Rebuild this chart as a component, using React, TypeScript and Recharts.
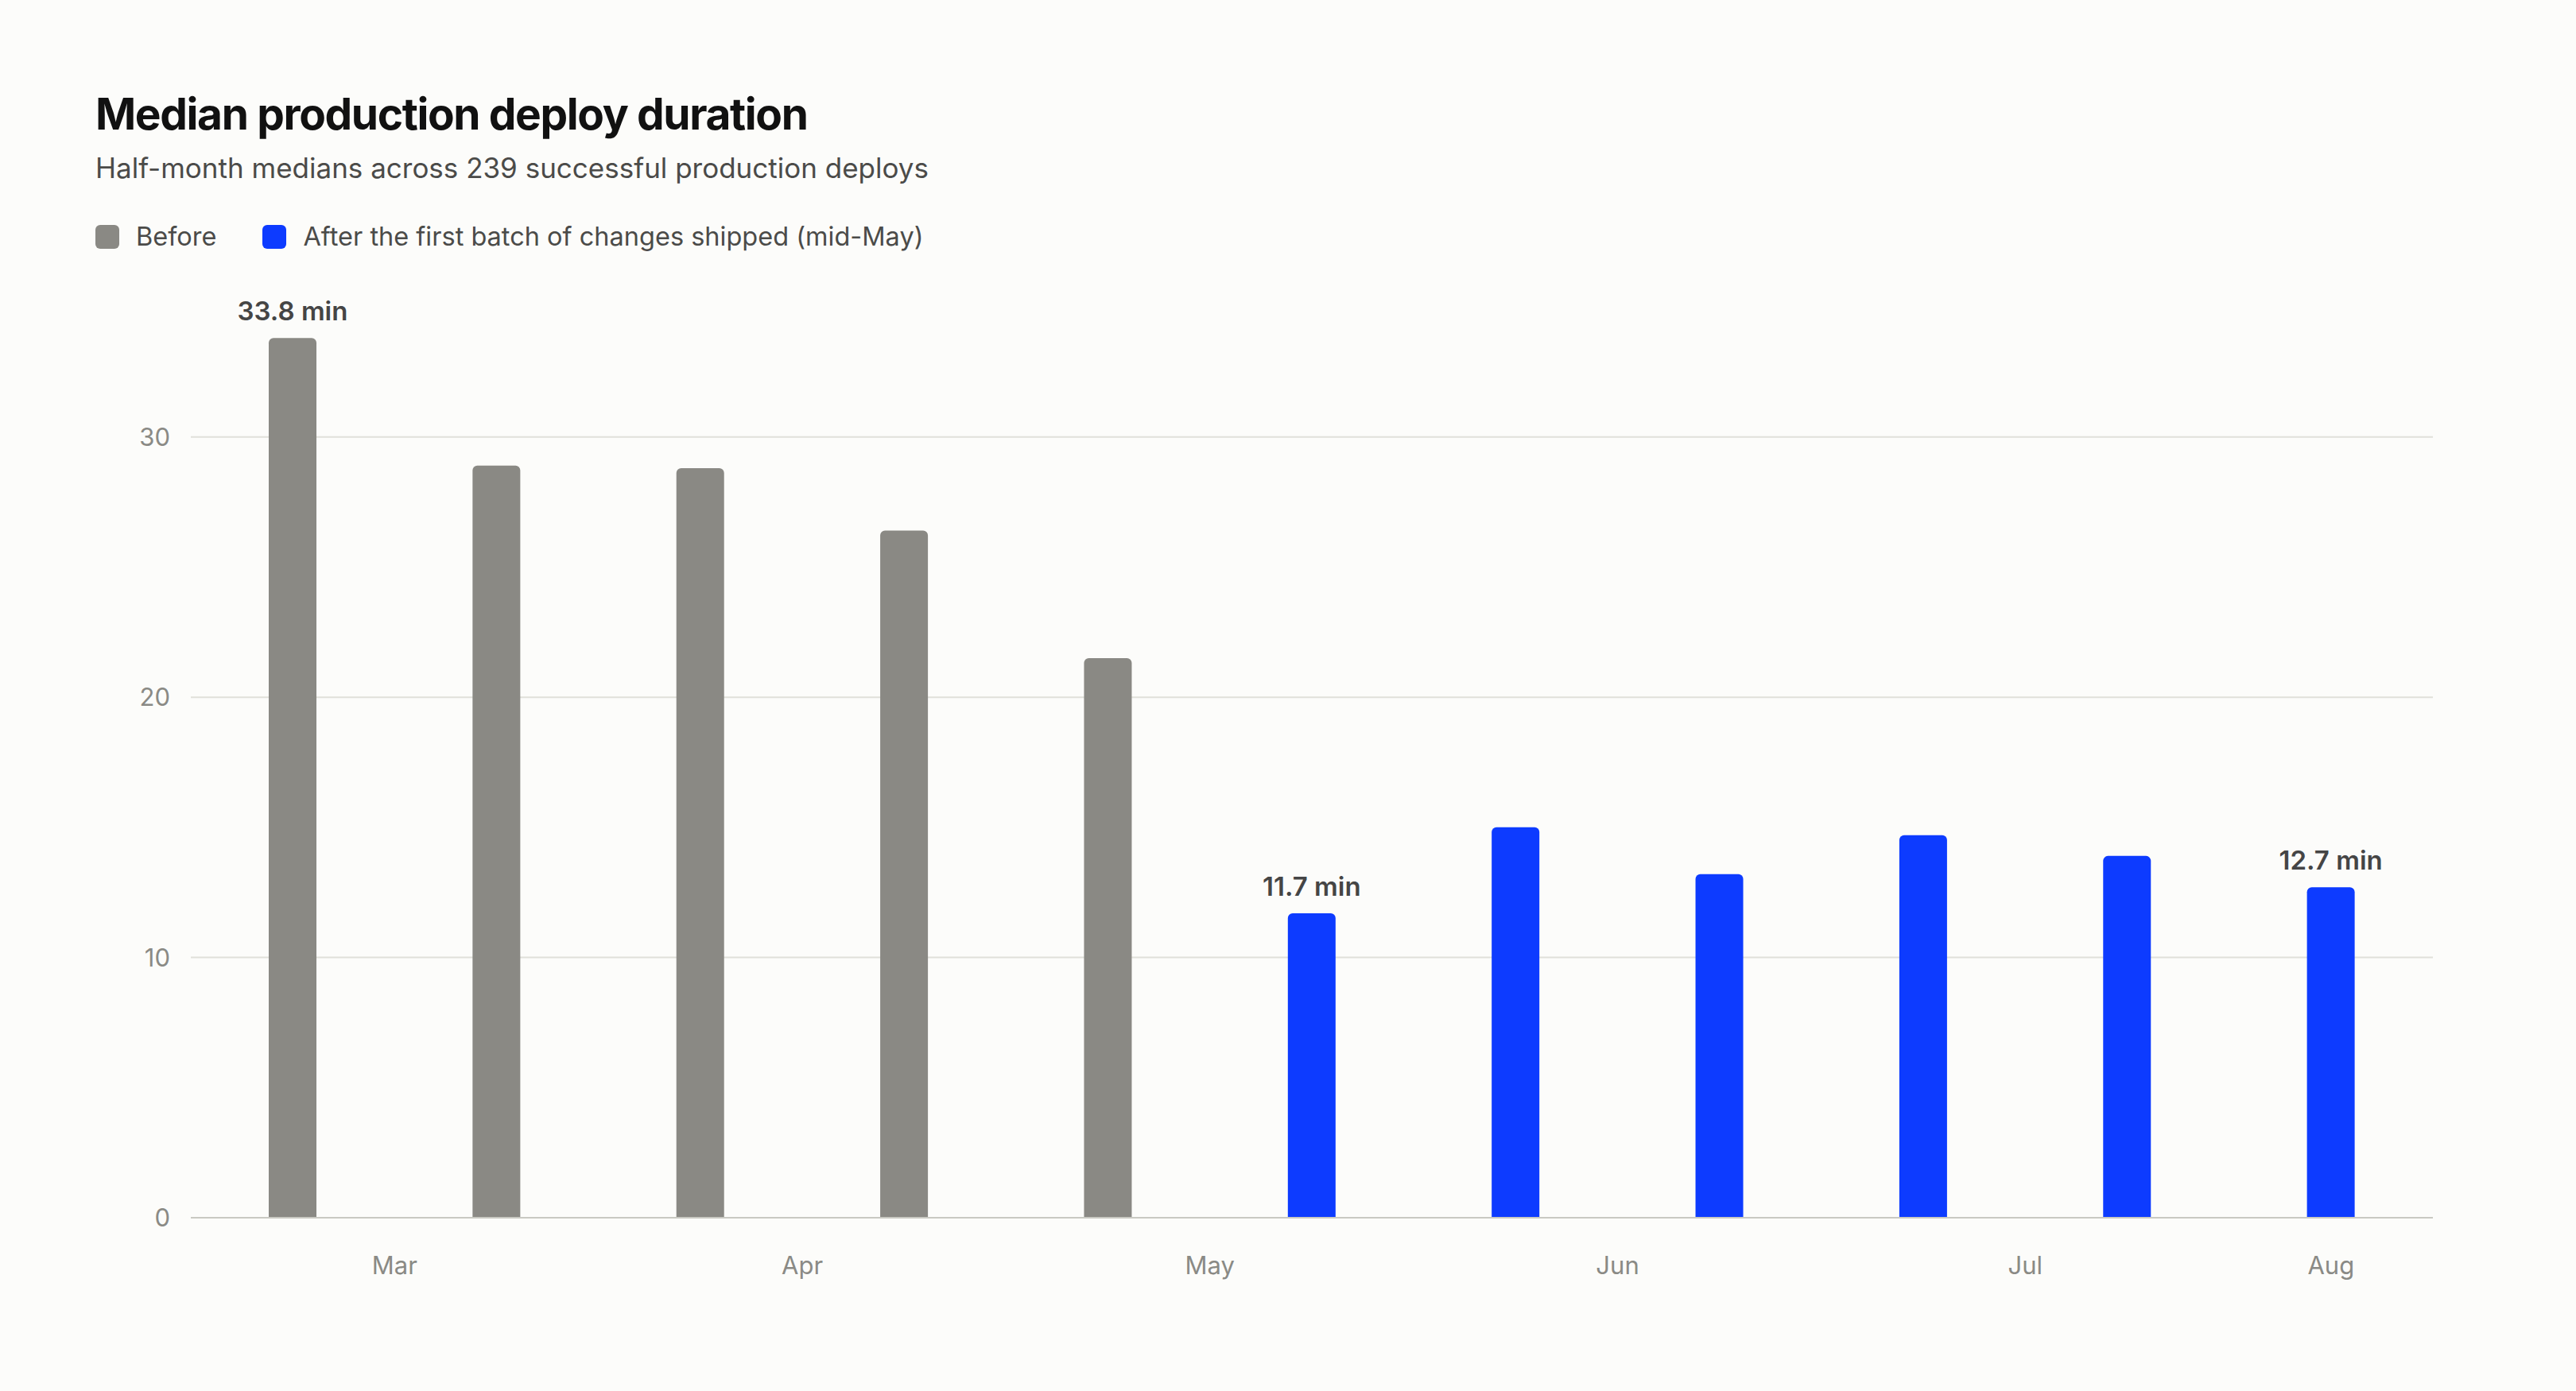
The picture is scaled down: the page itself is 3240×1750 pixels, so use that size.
import { BarChart, Bar, XAxis, YAxis, CartesianGrid, LabelList } from "recharts";

const halfMonths = [
  "Mar 1–15",
  "Mar 16–31",
  "Apr 1–15",
  "Apr 16–30",
  "May 1–15",
  "May 16–31",
  "Jun 1–15",
  "Jun 16–30",
  "Jul 1–15",
  "Jul 16–31",
  "Aug 1–15",
];
const beforeMinutes = [33.8, 28.9, 28.8, 26.4, 21.5, null, null, null, null, null, null];
const afterMinutes = [null, null, null, null, null, 11.7, 15.0, 13.2, 14.7, 13.9, 12.7];
const monthTicks = ["Mar", "Apr", "May", "Jun", "Jul", "Aug"];
const yTicks = [0, 10, 20, 30];
const annotated = ["Mar 1–15", "May 16–31", "Aug 1–15"];

const GRAY = "#8a8984";
const BLUE = "#0d3bff";
const FONT = "Inter, 'Noto Sans', sans-serif";

const data = halfMonths.map((label, i) => ({
  i,
  label,
  before: beforeMinutes[i],
  after: afterMinutes[i],
}));

// a month tick sits in the middle of its half-month bars
const tickPositions = monthTicks.map(m => {
  const idx = halfMonths.map((h, i) => (h.split(" ")[0] === m ? i : -1)).filter(i => i >= 0);
  return idx.reduce((a, b) => a + b, 0) / idx.length;
});

function BarNote(props: any) {
  const { x, y, width, value, index } = props;
  if (value == null || !annotated.includes(halfMonths[index])) return null;
  return (
    <text
      x={x + width / 2}
      y={y - 22}
      textAnchor="middle"
      fill="#454545"
      fontSize={33}
      fontWeight={600}
      fontFamily={FONT}
    >
      {`${Number(value).toFixed(1)} min`}
    </text>
  );
}

function Swatch({ color }: { color: string }) {
  return (
    <span
      style={{
        display: "inline-block",
        width: 30,
        height: 30,
        borderRadius: 6,
        background: color,
        marginRight: 21,
        position: "relative",
        top: 2,
      }}
    />
  );
}

export default function App() {
  return (
    <div
      style={{
        position: "fixed",
        left: 0,
        top: 0,
        width: 3240,
        height: 1750,
        background: "#fcfcfa",
        fontFamily: FONT,
        overflow: "hidden",
      }}
    >
      <div
        style={{
          position: "absolute",
          left: 120,
          top: 116,
          fontSize: 55,
          lineHeight: 1,
          fontWeight: 700,
          letterSpacing: "-0.025em",
          color: "#111",
        }}
      >
        Median production deploy duration
      </div>
      <div
        style={{
          position: "absolute",
          left: 120,
          top: 194,
          fontSize: 35,
          lineHeight: 1,
          color: "#4b4b49",
        }}
      >
        Half-month medians across 239 successful production deploys
      </div>
      <div
        style={{
          position: "absolute",
          left: 120,
          top: 281,
          fontSize: 32.5,
          lineHeight: "33px",
          color: "#4b4b49",
          display: "flex",
          alignItems: "flex-start",
        }}
      >
        <Swatch color={GRAY} />
        <span style={{ marginRight: 58 }}>Before</span>
        <Swatch color={BLUE} />
        <span>After the first batch of changes shipped (mid-May)</span>
      </div>

      <div style={{ position: "absolute", left: 0, top: 0 }}>
        <BarChart
          width={3240}
          height={1750}
          data={data}
          margin={{ top: 386, right: 180, bottom: 118, left: 140 }}
        >
          <CartesianGrid
            vertical={false}
            stroke="#e0e0da"
            strokeWidth={2}
            horizontalValues={yTicks}
          />
          <XAxis
            dataKey="i"
            type="number"
            domain={[-0.5, halfMonths.length - 0.5]}
            ticks={tickPositions}
            interval={0}
            tickFormatter={v => monthTicks[tickPositions.indexOf(v)] ?? ""}
            height={100}
            tickLine={false}
            tickSize={0}
            tickMargin={49}
            axisLine={{ stroke: "#c9c9c2", strokeWidth: 2 }}
            tick={{ fontSize: 31, fill: "#8a8a85", fontFamily: FONT }}
          />
          <YAxis
            domain={[0, 35]}
            ticks={yTicks}
            width={100}
            tickLine={false}
            axisLine={false}
            tickSize={0}
            tickMargin={26}
            tick={{ fontSize: 31, fill: "#8a8a85", fontFamily: FONT }}
          />
          <Bar
            dataKey="before"
            name="Before"
            stackId="m"
            fill={GRAY}
            barSize={60}
            radius={[6, 6, 0, 0]}
            isAnimationActive={false}
          >
            <LabelList dataKey="before" content={BarNote} />
          </Bar>
          <Bar
            dataKey="after"
            name="After the first batch of changes shipped (mid-May)"
            stackId="m"
            fill={BLUE}
            barSize={60}
            radius={[6, 6, 0, 0]}
            isAnimationActive={false}
          >
            <LabelList dataKey="after" content={BarNote} />
          </Bar>
        </BarChart>
      </div>
    </div>
  );
}
